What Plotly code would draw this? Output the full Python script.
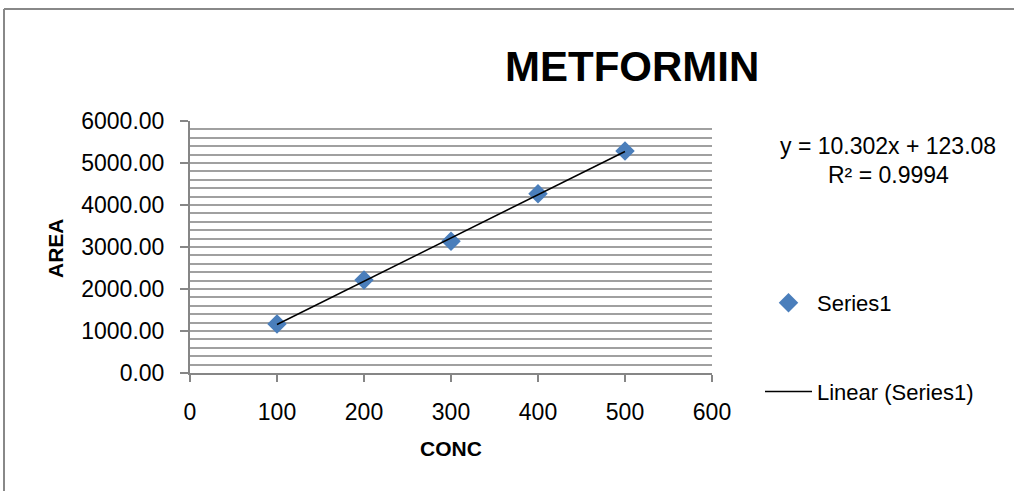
import numpy as np
import plotly.graph_objects as go

# ---- data ----
conc = [100, 200, 300, 400, 500]
area = [1165, 2215, 3135, 4265, 5288]
y_ticks = [0, 1000, 2000, 3000, 4000, 5000, 6000]
x_ticks = [0, 100, 200, 300, 400, 500, 600]
title_text = "METFORMIN"
eq_text = "y = 10.302x + 123.08"
r2_text = "R² = 0.9994"

W, H = 1014, 491
L, R, T, B = 190, 712, 121, 373  # plot area in pixels

def px(x):
    return (x - L) / (R - L)

def py(y):
    return (B - y) / (B - T)

slope, intercept = np.polyfit(conc, area, 1)
fit_x = [min(conc), max(conc)]
fit_y = [slope * v + intercept for v in fit_x]

FONT = "Liberation Sans"
AX = "#868686"

fig = go.Figure()
fig.add_trace(go.Scatter(
    x=conc, y=area, mode="markers", name="Series1",
    marker=dict(symbol="diamond", size=15, color="#4a7ebb"),
    legendgroup="a",
))
fig.add_trace(go.Scatter(
    x=fit_x, y=fit_y, mode="lines", name="Linear (Series1)",
    line=dict(color="black", width=1.5),
    legendgroup="b",
))

fig.update_layout(
    width=W, height=H,
    margin=dict(l=L, r=W - R, t=T, b=H - B, pad=0),
    paper_bgcolor="white", plot_bgcolor="white",
    font=dict(family=FONT, size=23, color="black"),
    showlegend=True,
    legend=dict(
        x=px(760), y=py(282), xanchor="left", yanchor="top",
        traceorder="grouped", tracegroupgap=57,
        font=dict(size=22), bgcolor="rgba(0,0,0,0)", itemwidth=47,
    ),
    xaxis=dict(
        range=[0, 600], tickvals=x_ticks, ticktext=[str(v) for v in x_ticks],
        showgrid=False, zeroline=False,
        showline=True, linecolor=AX, linewidth=2,
        ticks="outside", ticklen=7, tickcolor=AX, tickwidth=2,
        ticklabelstandoff=10, fixedrange=True,
    ),
    yaxis=dict(
        range=[0, 6000], tickvals=y_ticks, ticktext=[f"{v:.2f}" for v in y_ticks],
        showgrid=True, gridcolor="#a0a0a0", gridwidth=1.5,
        minor=dict(dtick=200, showgrid=True, gridcolor="#a0a0a0", gridwidth=1.5),
        zeroline=False,
        showline=True, linecolor=AX, linewidth=2,
        ticks="outside", ticklen=8, tickcolor=AX, tickwidth=2,
        ticklabelstandoff=11, fixedrange=True,
    ),
    annotations=[
        dict(text=f"<b>{title_text}</b>", x=px(632), y=py(66), xref="paper", yref="paper",
             showarrow=False, font=dict(size=42, family=FONT), xanchor="center", yanchor="middle"),
        dict(text="<b>CONC</b>", x=px(451), y=py(448), xref="paper", yref="paper",
             showarrow=False, font=dict(size=21, family=FONT), xanchor="center", yanchor="middle"),
        dict(text="<b>AREA</b>", x=px(55), y=py(248), xref="paper", yref="paper",
             showarrow=False, font=dict(size=21, family=FONT), textangle=-90,
             xanchor="center", yanchor="middle"),
        dict(text=eq_text, x=px(888), y=py(146), xref="paper", yref="paper",
             showarrow=False, font=dict(size=23, family=FONT), xanchor="center", yanchor="middle"),
        dict(text=r2_text, x=px(888), y=py(175), xref="paper", yref="paper",
             showarrow=False, font=dict(size=23, family=FONT), xanchor="center", yanchor="middle"),
    ],
    shapes=[
        dict(type="line", xref="paper", yref="paper", x0=px(4), x1=px(1014), y0=py(9), y1=py(9),
             line=dict(color="#888888", width=2)),
        dict(type="line", xref="paper", yref="paper", x0=px(4), x1=px(4), y0=py(9), y1=py(491),
             line=dict(color="#888888", width=2)),
    ],
)

fig.write_html("out.html", config={"displayModeBar": False})
